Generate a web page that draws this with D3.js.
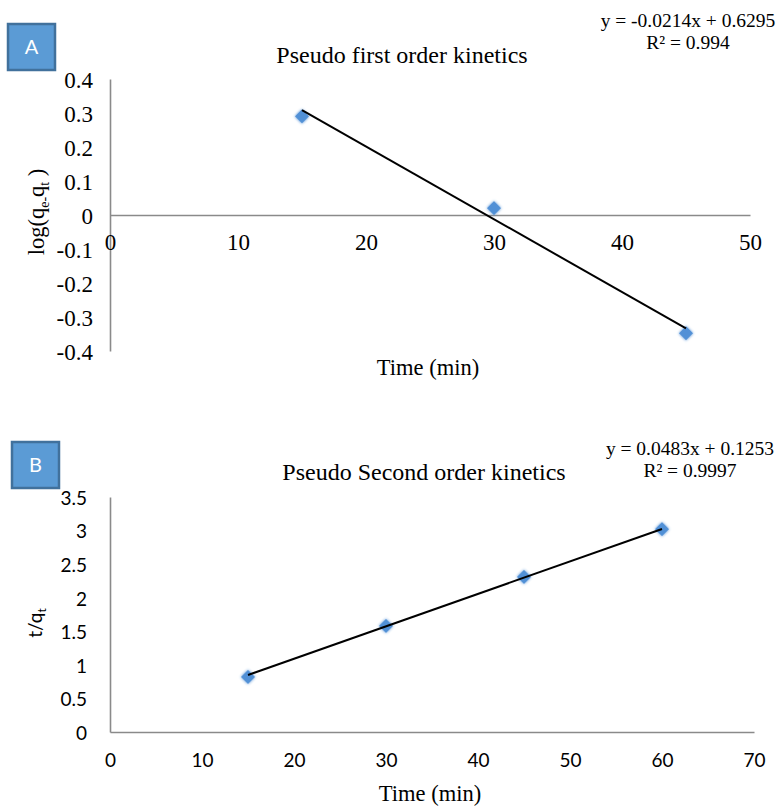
<!DOCTYPE html>
<html><head><meta charset="utf-8">
<script src="https://cdn.jsdelivr.net/npm/d3@7"></script>
<style>
html,body{margin:0;padding:0;background:#fff;}
svg{display:block;}
</style></head>
<body>
<svg id="chart" width="782" height="808"></svg>
<script>
// Panel A: pseudo first order
const timeA = [15, 30, 45];
const logQ = [0.29, 0.02, -0.348];
const trendA = {slope: -0.0214, intercept: 0.6295};
const ticksAx = [0, 10, 20, 30, 40, 50];
const ticksAy = [0.4, 0.3, 0.2, 0.1, 0, -0.1, -0.2, -0.3, -0.4];
const eqA = ["y = -0.0214x + 0.6295", "R² = 0.994"];
const titleA = "Pseudo first order kinetics";

// Panel B: pseudo second order
const timeB = [15, 30, 45, 60];
const tq = [0.82, 1.58, 2.31, 3.02];
const trendB = {slope: 0.0483, intercept: 0.1253};
const ticksBx = [0, 10, 20, 30, 40, 50, 60, 70];
const ticksBy = [0, 0.5, 1, 1.5, 2, 2.5, 3, 3.5];
const eqB = ["y = 0.0483x + 0.1253", "R² = 0.9997"];
const titleB = "Pseudo Second order kinetics";

const SERIF = "'Liberation Serif', 'Times New Roman', Times, serif";
const SANS = "Lato, 'Open Sans', sans-serif";

const svg = d3.select("#chart");
const axisColor = "#8a8a8a";
const markerFill = "#5190d6";

const defs = svg.append("defs");
const f = defs.append("filter").attr("id","glow").attr("x","-50%").attr("y","-50%").attr("width","200%").attr("height","200%");
f.append("feGaussianBlur").attr("in","SourceGraphic").attr("stdDeviation",1.7).attr("result","b");
const m = f.append("feMerge");
m.append("feMergeNode").attr("in","b");
m.append("feMergeNode").attr("in","SourceGraphic");

const diamond = d3.symbol().type(d3.symbolSquare).size(98);

function panel(o){
  const g = svg.append("g");
  const yAxis = d3.axisLeft(o.y).tickValues(o.yTicks).tickSize(0).tickSizeOuter(0).tickPadding(o.yPad).tickFormat(o.yFmt);
  const ya = g.append("g").attr("transform",`translate(${o.x(0)},0)`).call(yAxis);
  const xAxis = d3.axisBottom(o.x).tickValues(o.xTicks).tickSize(0).tickSizeOuter(0).tickPadding(o.xPad).tickFormat(d3.format("d"));
  const xa = g.append("g").attr("transform",`translate(0,${o.y(0)})`).call(xAxis);
  [ya, xa].forEach(a=>{
    a.attr("font-family",o.tickFont).attr("font-size",o.tickSize);
    a.select(".domain").attr("stroke",axisColor).attr("stroke-width",1.6);
    a.selectAll("text").attr("font-family",o.tickFont).attr("font-size",o.tickSize).attr("fill","#000");
  });
  ya.selectAll("text").attr("dy","0.39em");
  const x0 = d3.min(o.xs), x1 = d3.max(o.xs);
  const tl = [x0, x1].map(v=>[v, o.trend.slope*v + o.trend.intercept]);
  g.selectAll("path.pt").data(o.xs.map((v,i)=>[v,o.ys[i]])).join("path")
    .attr("class","pt")
    .attr("d",diamond)
    .attr("transform",d=>`translate(${o.x(d[0])},${o.y(d[1])}) rotate(45)`)
    .attr("fill",markerFill).attr("filter","url(#glow)");
  g.append("path").datum(tl)
    .attr("d",d3.line().x(d=>o.x(d[0])).y(d=>o.y(d[1])))
    .attr("stroke","#000").attr("stroke-width",2).attr("fill","none");
  g.append("text").attr("font-family",SERIF).attr("x",o.titleX).attr("y",o.titleY)
    .attr("text-anchor","middle").attr("font-size",24).text(o.title);
  o.eq.forEach((t,i)=>{
    g.append("text").attr("font-family",SERIF).attr("x",o.eqX).attr("y",o.eqY + i*22)
      .attr("text-anchor","middle").attr("font-size",19.5).text(t);
  });
  g.append("text").attr("font-family",SERIF).attr("x",o.xtX).attr("y",o.xtY)
    .attr("text-anchor","middle").attr("font-size",22.5).text("Time (min)");
  g.append("rect").attr("x",o.box[0]).attr("y",o.box[1]).attr("width",47).attr("height",46)
    .attr("fill","#5b9bd5").attr("stroke","#41719c").attr("stroke-width",2.5);
  g.append("text").attr("font-family",SANS).attr("x",o.box[0]+23.5).attr("y",o.box[1]+30)
    .attr("text-anchor","middle").attr("font-size",20).attr("fill","#fff").text(o.letter);
  return g;
}

const xA = d3.scaleLinear().domain([0,50]).range([110,750]);
const yA = d3.scaleLinear().domain([-0.4,0.4]).range([351,79]);
const gA = panel({x:xA,y:yA,xs:timeA,ys:logQ,trend:trendA,xTicks:ticksAx,yTicks:ticksAy,
  yFmt:d=> d===0 ? "0" : d3.format(".1f")(d).replace("−","-"),
  yPad:17,xPad:19,tickFont:SERIF,tickSize:23,title:titleA,titleX:402,titleY:63,
  eq:eqA,eqX:688,eqY:27,xtX:428,xtY:375,box:[8,24],letter:"A"});
const ytA = gA.append("text").attr("font-family",SERIF).attr("font-size",22.5)
  .attr("transform","translate(44,212) rotate(-90)").attr("text-anchor","middle");
ytA.append("tspan").text("log(q");
ytA.append("tspan").attr("font-size",14).attr("dy",5).text("e-");
ytA.append("tspan").attr("dy",-5).text("q");
ytA.append("tspan").attr("font-size",14).attr("dy",5).text("t");
ytA.append("tspan").attr("dy",-5).text(" )");

const xB = d3.scaleLinear().domain([0,70]).range([110,754]);
const yB = d3.scaleLinear().domain([0,3.5]).range([732,497]);
const gB = panel({x:xB,y:yB,xs:timeB,ys:tq,trend:trendB,xTicks:ticksBx,yTicks:ticksBy,
  yFmt:d=>String(d),yPad:23,xPad:22,tickFont:SANS,tickSize:19,title:titleB,titleX:424,titleY:480,
  eq:eqB,eqX:690,eqY:455,xtX:430,xtY:801,box:[12,442],letter:"B"});
const ytB = gB.append("text").attr("font-family",SANS).attr("font-size",19)
  .attr("transform","translate(42,623) rotate(-90)").attr("text-anchor","middle");
ytB.append("tspan").text("t/q");
ytB.append("tspan").attr("font-size",12).attr("dy",4).text("t");
</script>
</body></html>
